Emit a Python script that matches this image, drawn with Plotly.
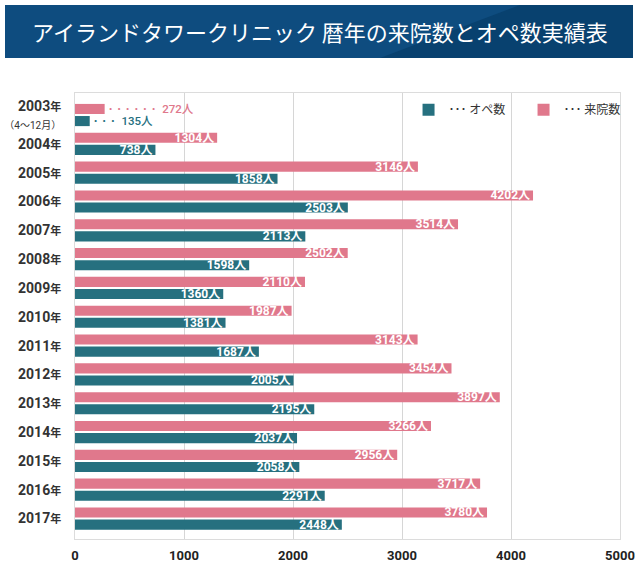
import plotly.graph_objects as go

years = ["2003", "2004", "2005", "2006", "2007", "2008", "2009", "2010",
         "2011", "2012", "2013", "2014", "2015", "2016", "2017"]
visits = [272, 1304, 3146, 4202, 3514, 2502, 2110, 1987, 3143, 3454, 3897, 3266, 2956, 3717, 3780]
opes = [135, 738, 1858, 2503, 2113, 1598, 1360, 1381, 1687, 2005, 2195, 2037, 2058, 2291, 2448]
x_ticks = [0, 1000, 2000, 3000, 4000, 5000]

PINK = "#e0788c"
TEAL = "#26707f"
NUM_FONT = "Roboto, 'Noto Sans CJK JP', sans-serif"
JP_FONT = "'Noto Sans CJK JP', sans-serif"

pos = list(range(len(years)))

def labels(vals, first_prefix):
    out = []
    for i, v in enumerate(vals):
        if i == 0:
            out.append(f"{first_prefix}  {v}人")
        else:
            out.append(f"{v}人")
    return out

ticktext = []
for i, y in enumerate(years):
    t = f"<b>{y}</b><span style='font-size:11px'><b>年</b></span>"
    if i == 0:
        t += "<br><span style='font-size:10px'>（4〜12月）</span>"
    ticktext.append(t)

fig = go.Figure()
fig.add_trace(go.Bar(
    y=pos, x=visits, orientation="h", name="･･･ 来院数",
    marker=dict(color=PINK, line=dict(width=0)),
    offset=-0.385, width=0.35,
    text=labels(visits, "･ ･ ･ ･ ･ ･"),
    textposition=["outside"] + ["inside"] * (len(years) - 1),
    insidetextanchor="end", constraintext="none", textangle=0, cliponaxis=False,
    insidetextfont=dict(color="white", size=12, family=NUM_FONT, weight="bold"),
    outsidetextfont=dict(color=PINK, size=11.5, family=NUM_FONT, weight=500),
    hoverinfo="skip",
))
fig.add_trace(go.Bar(
    y=pos, x=opes, orientation="h", name="･･･ オペ数",
    marker=dict(color=TEAL, line=dict(width=0)),
    offset=0.035, width=0.35,
    text=labels(opes, "･ ･ ･"),
    textposition=["outside"] + ["inside"] * (len(years) - 1),
    insidetextanchor="end", constraintext="none", textangle=0, cliponaxis=False,
    insidetextfont=dict(color="white", size=12, family=NUM_FONT, weight="bold"),
    outsidetextfont=dict(color=TEAL, size=11.5, family=NUM_FONT, weight=500),
    hoverinfo="skip",
))

fig.update_layout(
    width=640, height=566,
    margin=dict(l=75, r=20, t=93, b=27, autoexpand=False),
    paper_bgcolor="white", plot_bgcolor="white",
    showlegend=True,
    legend=dict(orientation="h", x=0.612, y=0.995, xanchor="left", yanchor="top",
                traceorder="reversed", font=dict(size=12, family=JP_FONT, color="#333"),
                bgcolor="rgba(0,0,0,0)", itemwidth=30, entrywidth=70,
                itemclick=False, itemdoubleclick=False),
    xaxis=dict(range=[0, 5000], tickvals=x_ticks, showgrid=True, gridcolor="#d6d6d6",
               gridwidth=1, zeroline=False, showline=True, linecolor="#dcdcdc",
               mirror=True, ticks="", ticklabelstandoff=4,
               tickfont=dict(size=13, family=NUM_FONT, color="#222", weight="bold")),
    yaxis=dict(range=[14.71, -0.764], tickvals=pos, ticktext=ticktext,
               showgrid=False, zeroline=False, showline=True, linecolor="#dcdcdc",
               mirror=True, ticks="", ticklabelstandoff=10,
               tickfont=dict(size=14, family=NUM_FONT, color="#333")),
    bargap=0.3,
    shapes=[
        dict(type="rect", xref="paper", yref="paper",
             x0=(5 - 75) / 545, x1=(633 - 75) / 545,
             y0=(539 - 58) / 446, y1=(539 - 5) / 446,
             fillcolor="#08416f", line=dict(width=0), layer="above"),
        dict(type="path", xref="paper", yref="paper",
             path=f"M {(5-75)/545} {(539-58)/446} L {(5-75)/545} {(539-5)/446} "
                  f"L {(520-75)/545} {(539-5)/446} L {(380-75)/545} {(539-58)/446} Z",
             fillcolor="#0e4c7f", line=dict(width=0), layer="above"),
    ],
    annotations=[
        dict(text="アイランドタワークリニック 暦年の来院数とオペ数実績表",
             xref="paper", yref="paper", x=(320 - 75) / 545, y=(539 - 31) / 446,
             xanchor="center", yanchor="middle", showarrow=False,
             font=dict(size=22, color="white", family=JP_FONT)),
    ],
)

fig.write_html("out.html")
